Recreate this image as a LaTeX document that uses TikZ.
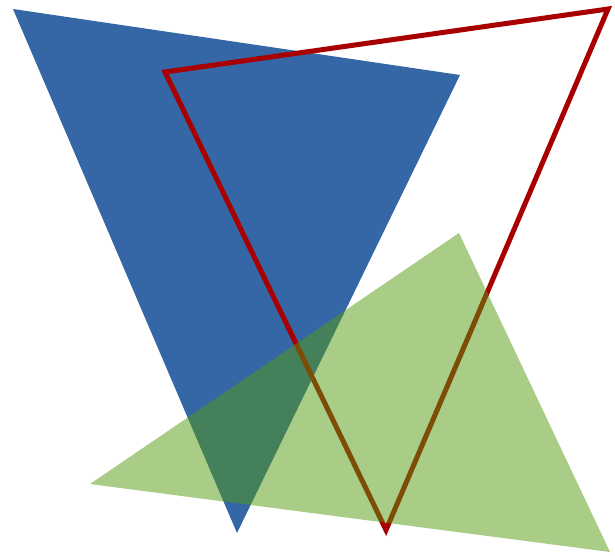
\documentclass[tikz,border=0pt]{standalone}
\definecolor{triblue}{RGB}{53,102,166}
\definecolor{trired}{RGB}{168,0,0}
\definecolor{trigreen}{RGB}{83,155,13}
\begin{document}
\begin{tikzpicture}[x=1pt,y=-1pt]
\useasboundingbox (0,0) rectangle (615,555);
\fill[triblue] (13,9) -- (460,75) -- (237,533) -- cycle;
\draw[trired,line width=5pt,line join=miter] (165,72) -- (608,9) -- (386,530) -- cycle;
\fill[trigreen,fill opacity=0.5] (459,233) -- (90,484) -- (610,552) -- cycle;
\end{tikzpicture}
\end{document}
